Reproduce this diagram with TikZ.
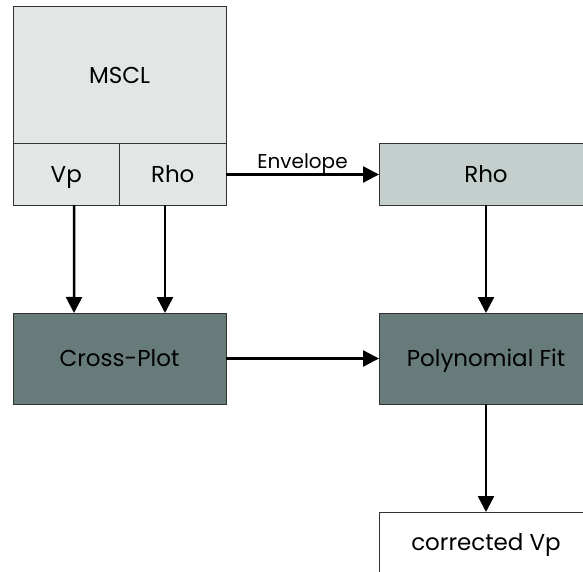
\documentclass[tikz,border=0pt]{standalone}
\usepackage{fontspec}
\setmainfont{Poppins}
\usetikzlibrary{arrows.meta}
\definecolor{lightbox}{HTML}{E2E7E6}
\definecolor{midbox}{HTML}{C5D0CE}
\definecolor{darkbox}{HTML}{667B7A}
\definecolor{edge}{HTML}{333333}
\tikzset{
  box/.style={draw=edge, line width=1pt, inner sep=0pt, outer sep=0pt,
    font=\fontsize{23}{26}\selectfont, text=black,
    text height=16pt, text depth=0pt},
  arr/.style={line width=2.5pt, -{Triangle[length=16pt,width=16pt]}},
  lbl/.style={font=\fontsize{20}{22}\selectfont, inner sep=0pt,
    text height=14pt, text depth=0pt}
}
\begin{document}
\begin{tikzpicture}[x=1pt,y=-1pt]
  \clip (0,0) rectangle (583,572);
  \fill[white] (0,0) rectangle (583,572);
  % log block with its two curves
  \node[box, fill=lightbox, minimum width=213pt, minimum height=137pt] (mscl) at (119.5,75.5) {MSCL};
  \node[box, fill=lightbox, minimum width=106.5pt, minimum height=61pt] (vp) at (66.25,174.5) {Vp};
  \node[box, fill=lightbox, minimum width=106.5pt, minimum height=61pt] (rho) at (172.75,174.5) {Rho};
  % processing chain
  \node[box, fill=midbox, minimum width=214pt, minimum height=61pt] (rhoenv) at (486,174.5) {Rho};
  \node[box, fill=darkbox, minimum width=213pt, minimum height=91pt] (cross) at (119.5,358.5) {Cross-Plot};
  \node[box, fill=darkbox, minimum width=214pt, minimum height=91pt] (poly) at (486,358.5) {Polynomial Fit};
  \node[box, fill=white, minimum width=214pt, minimum height=61pt] (out) at (486,542.5) {corrected Vp};
  % connectors
  \draw[arr] ([xshift=8pt]vp.south) -- ([xshift=-45.5pt]cross.north);
  \draw[arr] ([xshift=-7.75pt]rho.south) -- ([xshift=45.5pt]cross.north);
  \draw[arr] (rho.east) -- node[lbl, above=5pt] {Envelope} (rhoenv.west);
  \draw[arr] (rhoenv.south) -- (poly.north);
  \draw[arr] (cross.east) -- (poly.west);
  \draw[arr] (poly.south) -- (out.north);
\end{tikzpicture}
\end{document}
